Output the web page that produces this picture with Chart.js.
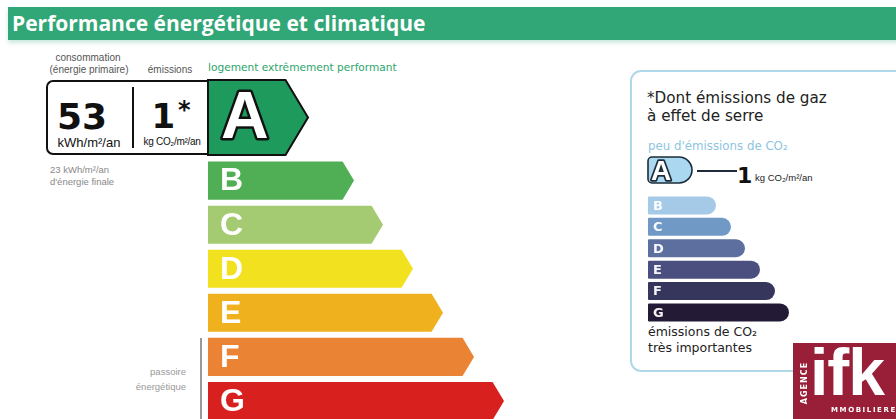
<!DOCTYPE html>
<html lang="fr">
<head>
<meta charset="utf-8">
<title>Performance énergétique et climatique</title>
<script src="https://cdn.jsdelivr.net/npm/chart.js@4.4.1/dist/chart.umd.min.js"></script>
<style>
  html, body { margin: 0; padding: 0; background: #fff; }
  #page { position: relative; width: 896px; height: 419px; overflow: hidden; font-family: "Liberation Sans", Arial, sans-serif; }
  .t { position: absolute; white-space: nowrap; line-height: 1; transform: translateY(-50%); }
  .c { transform: translate(-50%, -50%); text-align: center; }
  .r { transform: translate(-100%, -50%); text-align: right; }
  canvas { position: absolute; top: 0; }
  #title { position: absolute; left: 8px; top: 7px; width: 900px; height: 33px; background: #31a676;
           box-shadow: 0 3px 4px rgba(51, 168, 119, 0.25); color: #fff; font: bold 21px "Open Sans", sans-serif;
           line-height: 33px; padding-left: 4px; box-sizing: border-box; }
  #box { position: absolute; left: 46px; top: 80px; width: 166px; height: 75px; box-sizing: border-box;
         border: 2px solid #111; border-right: none; border-radius: 7px 0 0 7px; }
  #divider { position: absolute; left: 132px; top: 87px; width: 2px; height: 61px; background: #111; }
  #passLine { position: absolute; left: 200px; top: 338px; width: 2px; height: 90px; background: #999; }
  #panel { position: absolute; left: 630px; top: 70px; width: 300px; height: 302px; box-sizing: border-box;
           border: 2px solid #b0d8e8; border-radius: 11px; }
  #logo { position: absolute; left: 793px; top: 343px; width: 110px; height: 80px; background: #981f37; color: #fff; }
</style>
</head>
<body>
<div id="page">
  <div id="title">Performance énergétique et climatique</div>

  <div class="t c" style="left:88px; top:58px; font-size:10px; color:#555;">consommation</div>
  <div class="t c" style="left:89px; top:70px; font-size:10px; color:#555;">(énergie primaire)</div>
  <div class="t c" style="left:170px; top:70px; font-size:10px; color:#555;">émissions</div>
  <div class="t" style="left:208px; top:67px; font:10.6px 'DejaVu Sans', sans-serif; color:#2aa56a;">logement extrêmement performant</div>

  <div id="box"></div>
  <div id="divider"></div>
  <div class="t c" id="consoVal" style="left:82px; top:116px; font:bold 36px 'DejaVu Sans', sans-serif; color:#111;"></div>
  <div class="t c" style="left:89px; top:142px; font-size:13px; color:#111;">kWh/m²/an</div>
  <div class="t c" id="emisVal" style="left:171px; top:116px; font:bold 34px 'DejaVu Sans', sans-serif; color:#111;"></div>
  <div class="t c" style="left:172px; top:142px; font-size:10px; color:#111; letter-spacing:-0.3px;">kg CO₂/m²/an</div>

  <div class="t" id="finalVal" style="left:50px; top:170px; font-size:9.5px; color:#888;"></div>
  <div class="t" style="left:50px; top:182px; font-size:9.5px; color:#888;">d'énergie finale</div>

  <div id="passLine"></div>
  <div class="t r" style="left:186px; top:372px; font-size:9.5px; color:#999;">passoire</div>
  <div class="t r" style="left:186px; top:387px; font-size:9.5px; color:#999;">énergétique</div>

  <div id="panel"></div>
  <div class="t" style="left:647px; top:98px; font:15.2px 'DejaVu Sans', sans-serif; color:#222;">*Dont émissions de gaz</div>
  <div class="t" style="left:647px; top:116px; font:15.2px 'DejaVu Sans', sans-serif; color:#222;">à effet de serre</div>
  <div class="t" style="left:648px; top:146px; font:11.8px 'DejaVu Sans', sans-serif; color:#8ec4df;">peu d'émissions de CO₂</div>
  <div class="t" id="co2Val" style="left:737px; top:175px; font:bold 22px 'DejaVu Sans', sans-serif; color:#111;"></div>
  <div class="t" style="left:755px; top:178px; font-size:9.5px; color:#222;">kg CO₂/m²/an</div>
  <div class="t" style="left:648px; top:331px; font:12.5px 'DejaVu Sans', sans-serif; color:#222;">émissions de CO₂</div>
  <div class="t" style="left:648px; top:347px; font:12.5px 'DejaVu Sans', sans-serif; color:#222;">très importantes</div>

  <canvas id="energyChart" width="620" height="430" style="left:0;"></canvas>
  <canvas id="co2Chart" width="276" height="419" style="left:620px;"></canvas>

  <div id="logo">
    <div class="t" style="left:17px; top:29px; font:bold 66px 'Liberation Sans', sans-serif; letter-spacing:-1px;">ifk</div>
    <div class="t c" style="left:11px; top:40px; font:bold 8px 'DejaVu Sans', sans-serif; letter-spacing:1px; transform:translate(-50%,-50%) rotate(-90deg);">AGENCE</div>
    <div class="t" style="left:38px; top:67px; font:bold 7px 'DejaVu Sans', sans-serif; letter-spacing:1.6px;">MMOBILIERE</div>
  </div>
</div>

<script>
// classes of the DPE label
const classes = ['A', 'B', 'C', 'D', 'E', 'F', 'G'];
// arrow lengths of the energy scale (tip)
const energyLengths = [100, 146, 175, 205, 235, 266, 296];
// bar lengths of the CO2 scale
const co2Lengths = [44, 68, 83, 97, 112, 127, 141];
// values shown for this dwelling
const consumption = 53;
const emissions = 1;
const finalEnergy = 23;
const energyClass = 'A';
const co2Class = 'A';

const energyPalette = ['#1d9a5c', '#50af54', '#a4cb71', '#f2e11e', '#f0b11f', '#eb8334', '#d8201f'];
const co2Palette = ['#a9d8f0', '#a5cae7', '#7199c5', '#5c6f9e', '#4b4f80', '#36365d', '#231a35'];

document.getElementById('consoVal').textContent = consumption;
document.getElementById('emisVal').innerHTML = emissions + '<span style="font-size:24px; position:relative; top:-10px; margin-left:3px;">*</span>';
document.getElementById('finalVal').textContent = finalEnergy + ' kWh/m²/an';
document.getElementById('co2Val').textContent = emissions;

/** Draw the energy classes as arrows from each bar's geometry. */
const arrowPlugin = {
  id: 'arrows',
  afterDatasetsDraw(chart, args, opts) {
    const { ctx } = chart;
    const yScale = chart.scales.y;
    const step = yScale.getPixelForValue(1) - yScale.getPixelForValue(0);
    chart.getDatasetMeta(0).data.forEach((bar, i) => {
      const { x, y, base, height } = bar.getProps(['x', 'y', 'base', 'height'], true);
      const selected = chart.data.labels[i] === opts.selected;
      const h = selected ? height * opts.grow : height;
      const cy = selected ? y + step * opts.shift : y;
      const top = cy - h / 2, bot = cy + h / 2, d = h * 0.3;
      ctx.save();
      ctx.beginPath();
      ctx.moveTo(base, top);
      ctx.lineTo(x - d, top);
      ctx.lineTo(x, cy);
      ctx.lineTo(x - d, bot);
      ctx.lineTo(base, bot);
      ctx.closePath();
      ctx.fillStyle = opts.colors[i];
      ctx.fill();
      ctx.textBaseline = 'middle';
      ctx.textAlign = 'left';
      if (selected) {
        ctx.lineWidth = 2;
        ctx.strokeStyle = '#111';
        ctx.stroke();
        ctx.font = 'bold 66px "Liberation Sans", sans-serif';
        ctx.lineJoin = 'round';
        ctx.lineWidth = 5;
        ctx.strokeText(chart.data.labels[i], base + 13, cy + 2);
        ctx.fillStyle = '#fff';
        ctx.fillText(chart.data.labels[i], base + 13, cy + 2);
      } else {
        ctx.font = 'bold 32px "Liberation Sans Narrow", "Liberation Sans", sans-serif';
        ctx.fillStyle = '#fff';
        ctx.fillText(chart.data.labels[i], base + 12, y + 1);
      }
      ctx.restore();
    });
  },
};

/** Draw the CO2 classes as bars rounded at the end. */
const pillPlugin = {
  id: 'pills',
  afterDatasetsDraw(chart, args, opts) {
    const { ctx } = chart;
    const yScale = chart.scales.y;
    const step = yScale.getPixelForValue(1) - yScale.getPixelForValue(0);
    chart.getDatasetMeta(0).data.forEach((bar, i) => {
      const { x, y, base, height } = bar.getProps(['x', 'y', 'base', 'height'], true);
      const selected = chart.data.labels[i] === opts.selected;
      const h = selected ? height * opts.grow : height;
      const cy = selected ? y + step * opts.shift : y;
      ctx.save();
      ctx.beginPath();
      ctx.roundRect(base, cy - h / 2, x - base, h, [selected ? 4 : 1, h / 2, h / 2, selected ? 4 : 1]);
      ctx.fillStyle = opts.colors[i];
      ctx.fill();
      ctx.textBaseline = 'middle';
      ctx.textAlign = 'left';
      if (selected) {
        ctx.lineWidth = 1.6;
        ctx.strokeStyle = '#1d2b3a';
        ctx.stroke();
        ctx.beginPath();
        ctx.moveTo(x + 5, cy + 1);
        ctx.lineTo(x + 45, cy + 1);
        ctx.lineWidth = 2;
        ctx.stroke();
        ctx.font = 'bold 28px "Liberation Sans", sans-serif';
        ctx.lineJoin = 'round';
        ctx.lineWidth = 3.5;
        ctx.strokeText(chart.data.labels[i], base + 3, cy + 2);
        ctx.fillStyle = '#fff';
        ctx.fillText(chart.data.labels[i], base + 3, cy + 2);
      } else {
        ctx.font = 'bold 13px "DejaVu Sans", sans-serif';
        ctx.fillStyle = 'rgba(255,255,255,0.95)';
        ctx.fillText(chart.data.labels[i], base + 5, y + 1);
      }
      ctx.restore();
    });
  },
};

function hiddenBarOptions(max, padding, pluginOpts, pluginId) {
  return {
    indexAxis: 'y',
    responsive: false,
    animation: false,
    events: [],
    layout: { padding },
    scales: {
      x: { display: false, min: 0, max },
      y: { display: false },
    },
    plugins: {
      legend: { display: false },
      tooltip: { enabled: false },
      [pluginId]: pluginOpts,
    },
  };
}

new Chart(document.getElementById('energyChart'), {
  type: 'bar',
  data: {
    labels: classes,
    datasets: [{ data: energyLengths, backgroundColor: 'rgba(0,0,0,0)', barPercentage: 38 / 44, categoryPercentage: 1 }],
  },
  options: hiddenBarOptions(300, { left: 208, right: 112, top: 114.5, bottom: 7 },
    { selected: energyClass, grow: 1.97, shift: -0.432, colors: energyPalette }, 'arrows'),
  plugins: [arrowPlugin],
});

new Chart(document.getElementById('co2Chart'), {
  type: 'bar',
  data: {
    labels: classes,
    datasets: [{ data: co2Lengths, backgroundColor: 'rgba(0,0,0,0)', barPercentage: 18 / 21.4, categoryPercentage: 1 }],
  },
  options: hiddenBarOptions(150, { left: 28, right: 98, top: 173.3, bottom: 95.8 },
    { selected: co2Class, grow: 1.44, shift: -0.654, colors: co2Palette }, 'pills'),
  plugins: [pillPlugin],
});
</script>
</body>
</html>
